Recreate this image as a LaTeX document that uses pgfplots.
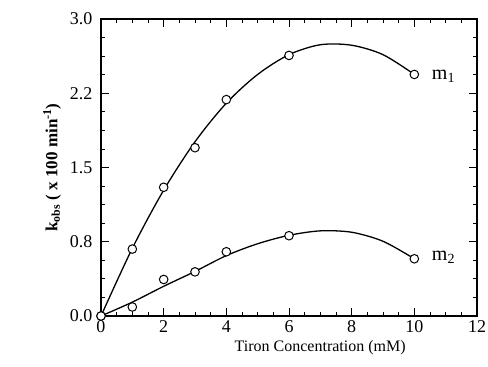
\documentclass[border=0pt]{standalone}
\usepackage{pgfplots}
\pgfplotsset{compat=1.18}
\usepackage{fontspec}
\setmainfont{Liberation Serif}
\begin{document}
\begin{tikzpicture}
\begin{axis}[
  scale only axis, width=376pt, height=297pt,
  xmin=0, xmax=12, ymin=0, ymax=3,
  xtick={0,2,4,6,8,10,12}, xticklabels={0,2,4,6,8,10,12},
  ytick={0,0.75,1.5,2.25,3}, yticklabels={0.0,0.8,1.5,2.2,3.0},
  minor x tick num=3, minor y tick num=3,
  tick align=inside, major tick length=8pt, minor tick length=4pt,
  axis line style={line width=1.4pt},
  every tick/.style={black, line width=0.8pt},
  tick label style={font=\fontsize{18}{18}\selectfont},
  /pgf/number format/assume math mode=true,
  xticklabel style={yshift=-1pt},
  yticklabel style={xshift=-5pt},
  xlabel={Tiron Concentration (mM)},
  xlabel style={font=\fontsize{16}{18}\selectfont, at={(axis description cs:0.583,-0.108)}, anchor=center},
  ylabel={\bfseries k\textsubscript{obs} ( x 100 min\textsuperscript{-1})},
  ylabel style={font=\fontsize{17}{18}\selectfont, at={(axis description cs:-0.13,0.5)}, anchor=center},
  clip=false,
]
% fitted curves
\addplot[smooth, line width=1.3pt] coordinates {
 (0,0) (1,0.684) (2,1.271) (3,1.76) (4,2.15) (5,2.44) (6,2.64) (7,2.74) (8,2.735) (9,2.64) (10,2.44)};
\addplot[smooth, line width=1.3pt] coordinates {
 (0,0) (1,0.14) (2,0.30) (3,0.45) (4,0.61) (5,0.73) (6,0.815) (7,0.86) (8,0.846) (9,0.755) (10,0.578)};
% data points
\addplot[only marks, mark=*, mark size=4.3pt, mark options={draw=black, fill=white, line width=1pt}] coordinates {
 (0,0) (1,0.676) (2,1.30) (3,1.70) (4,2.186) (6,2.632) (10,2.44)};
\addplot[only marks, mark=*, mark size=4.3pt, mark options={draw=black, fill=white, line width=1pt}] coordinates {
 (0,0) (1,0.091) (2,0.369) (3,0.446) (4,0.649) (6,0.811) (10,0.578)};
\node[anchor=west, font=\fontsize{20}{20}\selectfont] at (axis cs:10.45,2.42) {m\textsubscript{1}};
\node[anchor=west, font=\fontsize{20}{20}\selectfont] at (axis cs:10.45,0.59) {m\textsubscript{2}};
\end{axis}
\pgfresetboundingbox
\path[use as bounding box] (current axis.south west) ++(-101pt,-51pt) rectangle ++(488pt,367pt);
\end{tikzpicture}
\end{document}
